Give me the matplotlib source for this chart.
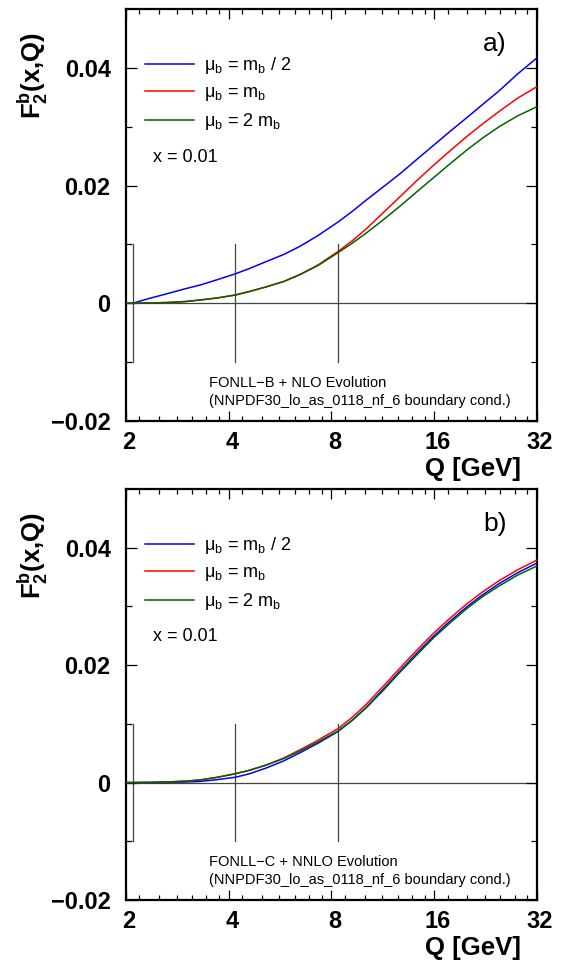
import matplotlib
matplotlib.use('Agg')
import matplotlib.pyplot as plt
import matplotlib.transforms as mtransforms
import numpy as np

plt.rcParams['font.family'] = ['Liberation Sans', 'DejaVu Sans']
plt.rcParams['mathtext.default'] = 'regular'

# Data
Q = [2.0, 2.09, 2.35, 2.63, 3.0, 3.3, 3.7, 4.18, 4.6, 5.16, 5.8, 6.48, 7.3, 8.36,
     9.2, 10.1, 11.3, 12.7, 14.2, 15.9, 17.8, 19.9, 22.2, 24.8, 28.0, 32.0]

a_half = [0, 0, 0.00085, 0.0016, 0.0025, 0.0031, 0.0040, 0.0050, 0.0059, 0.0071, 0.0083,
          0.0097, 0.0115, 0.0138, 0.0156, 0.0175, 0.0197, 0.0220, 0.0244, 0.0268, 0.0292,
          0.0315, 0.0338, 0.0361, 0.0389, 0.0417]
a_one = [0, 0, 0.00005, 0.00012, 0.0003, 0.00056, 0.0009, 0.0014, 0.0020, 0.0028, 0.0037,
         0.0049, 0.0065, 0.0088, 0.0106, 0.0126, 0.0153, 0.0181, 0.0208, 0.0234, 0.0259,
         0.0283, 0.0305, 0.0326, 0.0348, 0.0368]
a_two = [0, 0, 0.00005, 0.00012, 0.0003, 0.00056, 0.0009, 0.0014, 0.0020, 0.0028, 0.0037,
         0.0049, 0.0064, 0.0086, 0.0102, 0.0119, 0.0141, 0.0165, 0.0189, 0.0213, 0.0237,
         0.0260, 0.0281, 0.0300, 0.0318, 0.0334]

b_half = [0, 0, 0.00001, 0.00004, 0.0001, 0.0002, 0.0005, 0.0009, 0.0015, 0.0025, 0.0037,
          0.0051, 0.0067, 0.0087, 0.0106, 0.0128, 0.0158, 0.0190, 0.0220, 0.0249, 0.0275,
          0.0299, 0.0320, 0.0339, 0.0357, 0.0374]
b_one = [0, 0, 0.00003, 0.0001, 0.00025, 0.00045, 0.0009, 0.0015, 0.0021, 0.0030, 0.0042,
         0.0056, 0.0072, 0.0092, 0.0111, 0.0133, 0.0163, 0.0195, 0.0225, 0.0254, 0.0280,
         0.0304, 0.0325, 0.0344, 0.0362, 0.0379]
b_two = [0, 0, 0.00003, 0.0001, 0.00025, 0.00045, 0.0009, 0.0015, 0.0021, 0.0030, 0.0041,
         0.0054, 0.0069, 0.0088, 0.0106, 0.0127, 0.0156, 0.0188, 0.0217, 0.0246, 0.0272,
         0.0296, 0.0317, 0.0335, 0.0353, 0.0369]

mb = 4.18
thresholds = [mb / 2, mb, 2 * mb]
xticks = [2, 4, 8, 16, 32]
xticklabels = ['2', '4', '8', '16', '32']
yticks = [-0.02, 0, 0.02, 0.04]
yticklabels = ['\u22120.02', '0', '0.02', '0.04']
labels = ['\u03bc$_b$ = m$_b$ / 2', '\u03bc$_b$ = m$_b$', '\u03bc$_b$ = 2 m$_b$']
colors = ['#0000ff', '#ff0000', '#006400']

panels = [
    ('a)', [a_half, a_one, a_two], 'FONLL\u2212B + NLO Evolution'),
    ('b)', [b_half, b_one, b_two], 'FONLL\u2212C + NNLO Evolution'),
]

fig = plt.figure(figsize=(5.62, 9.64), dpi=100)
rects = [[0.2242, 0.5633, 0.7313, 0.4274], [0.2242, 0.0664, 0.7313, 0.4263]]

minor_x = []
for a in [2, 4, 8, 16]:
    minor_x += [a * f for f in [1.09375, 1.25, 1.40625, 1.5625, 1.71875, 1.875]]

for rect, (tag, curves, scheme) in zip(rects, panels):
    ax = fig.add_axes(rect)
    ax.set_xscale('log')
    ax.set_xlim(2, 32)
    ax.set_ylim(-0.02, 0.05)

    ax.axhline(0, color='#444444', lw=0.9, zorder=1)
    for t in thresholds:
        ax.plot([t, t], [-0.01, 0.01], color='#444444', lw=0.9, zorder=1)

    for ys, c, lab in zip(curves, colors, labels):
        ax.plot(Q, ys, color=c, lw=1.1, label=lab, zorder=3)

    ax.set_xticks(xticks)
    ax.set_xticklabels(xticklabels)
    ax.set_xticks(minor_x, minor=True)
    ax.set_xticklabels([], minor=True)
    ax.set_yticks(yticks)
    ax.set_yticklabels(yticklabels)
    ax.set_yticks([-0.01, 0.01, 0.03], minor=True)

    ax.tick_params(which='both', direction='in', top=True, right=True, width=0.9)
    ax.tick_params(axis='x', which='major', length=7, pad=7, labelsize=17)
    ax.tick_params(axis='x', which='minor', length=3.5)
    ax.tick_params(axis='y', which='major', length=8, pad=11, labelsize=17)
    ax.tick_params(axis='y', which='minor', length=4.3)
    for lbl in ax.get_xticklabels() + ax.get_yticklabels():
        lbl.set_fontweight('bold')
    offset = mtransforms.ScaledTranslation(3 / 100, 0, fig.dpi_scale_trans)
    for lbl in ax.get_xticklabels():
        lbl.set_transform(lbl.get_transform() + offset)
    for sp in ax.spines.values():
        sp.set_linewidth(1.6)

    ax.legend(loc='upper left', bbox_to_anchor=(0.046, 0.888), frameon=False,
              fontsize=13, handlelength=2.7, handletextpad=0.55, labelspacing=0.45,
              borderpad=0, borderaxespad=0)

    ax.text(0.066, 0.64, 'x = 0.01', transform=ax.transAxes, fontsize=13,
            ha='left', va='center')
    ax.text(0.927, 0.915, tag, transform=ax.transAxes, fontsize=19,
            ha='right', va='center')
    ax.text(0.203, 0.093, scheme, transform=ax.transAxes, fontsize=10.5,
            ha='left', va='center')
    ax.text(0.203, 0.049, '(NNPDF30_lo_as_0118_nf_6 boundary cond.)',
            transform=ax.transAxes, fontsize=10.5, ha='left', va='center')

    ax.text(-0.226, 0.944, '$F_2^b$(x,Q)', transform=ax.transAxes, fontsize=18.5,
            fontweight='bold', rotation=90, ha='center', va='top')
    ax.text(0.961, -0.1165, 'Q [GeV]', transform=ax.transAxes, fontsize=18.5,
            fontweight='bold', ha='right', va='center')

fig.savefig('out.png', dpi=100)
